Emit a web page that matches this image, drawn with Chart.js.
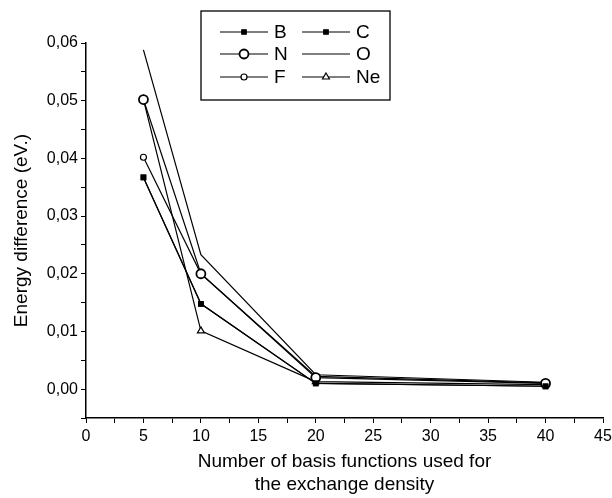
<!DOCTYPE html>
<html>
<head>
<meta charset="utf-8">
<script src="https://cdn.jsdelivr.net/npm/chart.js@4.4.0/dist/chart.umd.min.js"></script>
<style>
  body { margin: 0; background: #fff; }
  #wrap { width: 612px; height: 498px; }
</style>
</head>
<body>
<div id="wrap"><canvas id="grafico"></canvas></div>
<script>
// ======== DADOS ========
const basisCounts = [5, 10, 20, 40];
const seriesB  = [0.0367, 0.0148, 0.0010, 0.0005];
const seriesC  = [0.0367, 0.0148, 0.0010, 0.0005];
const seriesN  = [0.0502, 0.0200, 0.0020, 0.0010];
const seriesO  = [0.0588, 0.0233, 0.0025, 0.0012];
const seriesF  = [0.0402, 0.0200, 0.0022, 0.0011];
const seriesNe = [0.0502, 0.0101, 0.0013, 0.0008];
const xTicks = [0, 5, 10, 15, 20, 25, 30, 35, 40, 45];
const yTicks = [0, 0.01, 0.02, 0.03, 0.04, 0.05, 0.06];

function pontos(valores) {
    return basisCounts.map((x, i) => ({ x: x, y: valores[i] }));
}

function serie(label, valores, estilo, raio, preenchido, borda) {
    return {
        label: label,
        data: pontos(valores),
        borderColor: "#000",
        borderWidth: 1.2,
        pointStyle: estilo,
        pointRadius: raio,
        pointBorderWidth: borda || 1.2,
        pointBorderColor: "#000",
        pointBackgroundColor: preenchido ? "#000" : "#fff",
        fill: false,
        tension: 0
    };
}

const datasets = [
    serie("B", seriesB, "rect", 3.2, true),
    serie("C", seriesC, "rect", 3.2, true),
    serie("N", seriesN, "circle", 4.5, false, 1.8),
    serie("O", seriesO, false, 0, false),
    serie("F", seriesF, "circle", 3, false),
    serie("Ne", seriesNe, "triangle", 4, false)
];

const fonte = "'Liberation Sans', Arial, sans-serif";

// ======== LEGENDA (caixa em 2 colunas) ========
const legendaCaixa = {
    id: "legendaCaixa",
    afterDraw(chart) {
        const ctx = chart.ctx;
        ctx.save();
        ctx.strokeStyle = "#000";
        ctx.lineWidth = 1.3;
        ctx.strokeRect(201, 11, 189, 89);
        const linhas = [32, 54, 77];
        const colunas = [220, 302];
        ctx.font = "19px " + fonte;
        ctx.textBaseline = "middle";
        ctx.fillStyle = "#000";
        chart.data.datasets.forEach((ds, i) => {
            const x0 = colunas[i % 2];
            const y = linhas[Math.floor(i / 2)];
            ctx.beginPath();
            ctx.lineWidth = 1.2;
            ctx.moveTo(x0, y);
            ctx.lineTo(x0 + 48, y);
            ctx.stroke();
            if (ds.pointStyle) {
                ctx.fillStyle = ds.pointBackgroundColor;
                ctx.lineWidth = ds.pointBorderWidth;
                Chart.helpers.drawPoint(ctx, {
                    pointStyle: ds.pointStyle,
                    radius: ds.pointRadius,
                    rotation: 0,
                    borderWidth: ds.pointBorderWidth
                }, x0 + 24, y);
            }
            ctx.fillStyle = "#000";
            ctx.fillText(ds.label, x0 + 54, y + 1);
        });
        ctx.restore();
    }
};

const virgula = v => v.toFixed(2).replace(".", ",");

new Chart(document.getElementById("grafico"), {
    type: "line",
    data: { datasets: datasets },
    plugins: [legendaCaixa],
    options: {
        responsive: true,
        maintainAspectRatio: false,
        animation: false,
        layout: { padding: { top: 43, right: 0, left: 0, bottom: 0 } },
        plugins: {
            legend: { display: false },
            tooltip: { enabled: false }
        },
        scales: {
            x: {
                type: "linear",
                min: 0,
                max: 45,
                ticks: {
                    stepSize: 2.5,
                    autoSkip: false,
                    maxRotation: 0,
                    color: "#000",
                    font: { family: fonte, size: 16 },
                    padding: 4,
                    callback: v => xTicks.includes(v) ? String(v) : ""
                },
                grid: { drawOnChartArea: false, drawTicks: true, tickLength: 5, color: "#000" },
                border: { color: "#000", width: 1.5 },
                title: {
                    display: true,
                    text: ["Number of basis functions used for", "the exchange density"],
                    color: "#000",
                    font: { family: fonte, size: 19 },
                    padding: { top: 4, bottom: 2 }
                },
                afterFit(scale) {
                    scale.height = 80;
                    scale.paddingRight = 9;
                }
            },
            y: {
                min: -0.005,
                max: 0.06,
                ticks: {
                    stepSize: 0.005,
                    autoSkip: false,
                    color: "#000",
                    font: { family: fonte, size: 16 },
                    padding: 3,
                    callback: function(v) {
                        const r = Math.round(v * 1000);
                        const alvo = yTicks.find(t => Math.round(t * 1000) === r);
                        return alvo !== undefined ? virgula(alvo) : "";
                    }
                },
                grid: { drawOnChartArea: false, drawTicks: true, tickLength: 5, color: "#000" },
                border: { color: "#000", width: 1.5 },
                title: {
                    display: true,
                    text: "Energy difference (eV.)",
                    color: "#000",
                    font: { family: fonte, size: 19 },
                    padding: { top: 10, bottom: 2 }
                },
                afterFit(scale) { scale.width = 86; }
            }
        }
    }
});
</script>
</body>
</html>
